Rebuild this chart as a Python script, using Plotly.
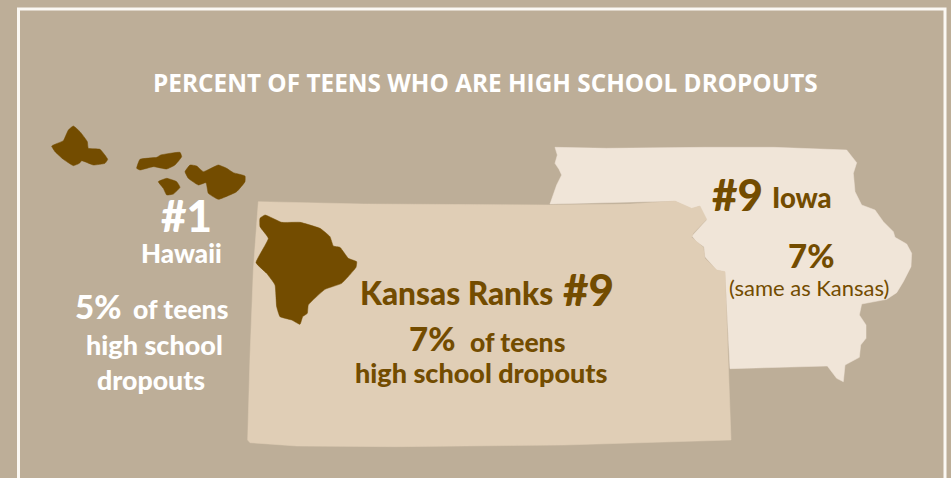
import plotly.graph_objects as go

BG = "#BDAE98"
KANSAS_FILL = "#E0CEB6"
IOWA_FILL = "#F0E5D8"
BROWN = "#734C00"
WHITE = "#FFFFFF"

IOWA = [(45,52),(200,55),(500,52),(700,52),(920,60),(950,98),(940,130),(945,185),(965,225),(1005,240),
        (1030,275),(1060,305),(1065,322),(1100,342),(1115,370),(1113,410),(1090,455),(1070,488),(1040,508),
        (965,522),(958,555),(978,585),(978,625),(962,645),(958,682),(915,705),(910,755),(890,745),(862,708),
        (570,716),(555,425),(530,420),(495,380),(492,350),(470,335),(456,318),(500,270),(478,228),(455,236),
        (405,213),(30,222),(45,180),(50,165),(65,135),(57,118),(45,100),(52,75)]
KANSAS = [(85,35),(400,42),(960,45),(1200,42),(1335,33),(1385,55),(1410,48),(1430,88),(1390,130),(1385,142),
          (1420,172),(1425,205),(1460,240),(1485,245),(1503,750),(1000,765),(500,770),(200,768),(60,758),
          (53,750),(60,500),(70,240)]
BIG_ISLAND = [(105,75),(155,97),(210,97),(270,115),(300,140),(310,168),(330,172),(355,205),(380,215),(378,232),
              (335,280),(285,298),(235,345),(232,370),(218,380),(210,403),(185,390),(150,380),(140,350),(135,285),
              (110,250),(78,218),(115,145),(90,110),(90,85)]
OAHU = [(220,78),(240,95),(262,125),(265,145),(300,148),(323,178),(315,190),(280,195),(245,182),(238,190),
        (220,197),(190,178),(165,155),(155,138),(190,122),(205,90)]
MOLOKAI = [(410,205),(420,178),(470,172),(482,165),(540,157),(545,170),(525,195),(500,207),(460,200),(420,210)]
LANAI = [(475,245),(500,235),(530,245),(540,262),(520,282),(500,285),(490,265)]
MAUI = [(555,215),(570,195),(590,198),(610,215),(655,195),(680,205),(700,218),(735,228),(735,245),(710,275),
        (655,298),(625,280),(618,248),(595,255),(565,235)]

FRAME_X = [18.5, 18.5, 945, 945]
FRAME_Y = [478, 9, 9, 478]

TITLE = "PERCENT OF TEENS WHO ARE HIGH SCHOOL DROPOUTS"


def crop(points, x0, y0):
    return [x0 + p[0] / 3 for p in points] + [x0 + points[0][0] / 3], [y0 + p[1] / 3 for p in points] + [y0 + points[0][1] / 3]


fig = go.Figure()


def poly(points, x0, y0, color, smooth=False):
    x, y = crop(points, x0, y0)
    line = dict(color=color, width=0.5)
    if smooth:
        line.update(shape="spline", smoothing=0.35)
    fig.add_trace(go.Scatter(x=x, y=y, mode="lines", fill="toself", fillcolor=color, line=line,
                             hoverinfo="skip", showlegend=False))


fig.add_trace(go.Scatter(x=FRAME_X, y=FRAME_Y, mode="lines", line=dict(color="#FBF8F3", width=3),
                         hoverinfo="skip", showlegend=False))
poly(IOWA, 540, 130, IOWA_FILL)
poly(KANSAS, 230, 190, KANSAS_FILL)
poly(BIG_ISLAND, 230, 190, BROWN, True)
for isle in (OAHU, MOLOKAI, LANAI, MAUI):
    poly(isle, 0, 100, BROWN, True)


def label(text, x, y, size, color, family="Lato", weight=900):
    fig.add_annotation(x=x, y=y, text=text, showarrow=False, xanchor="center", yanchor="middle",
                       font=dict(family=family, size=size, color=color, weight=weight))


label(TITLE, 485, 82, 24.35, WHITE, "Open Sans", 700)
label("#1", 186, 215, 44, WHITE)
label("Hawaii", 181, 253, 26, WHITE)
label("5%", 98, 306, 33, WHITE)
label("of teens", 180, 309, 26.5, WHITE)
label("high school", 154, 344, 27, WHITE)
label("dropouts", 151, 380, 26.7, WHITE)
label("Kansas Ranks", 456, 293, 31.6, BROWN)
label("#9", 588, 289, 44, BROWN)
label("7%", 432, 338, 33, BROWN)
label("of teens", 517, 342, 26.5, BROWN)
label("high school dropouts", 481, 372, 27, BROWN)
label("#9", 737, 194, 44, BROWN)
label("Iowa", 802, 197, 27.5, BROWN)
label("7%", 811, 255, 33, BROWN)
label("(same as Kansas)", 809, 287, 22, BROWN, "Lato", 400)

fig.update_layout(
    width=951, height=478, margin=dict(l=0, r=0, t=0, b=0),
    paper_bgcolor=BG, plot_bgcolor=BG, showlegend=False,
    xaxis=dict(range=[0, 951], visible=False, fixedrange=True),
    yaxis=dict(range=[478, 0], visible=False, fixedrange=True),
)
fig.write_html("out.html", config={"displayModeBar": False},
               post_script="document.body.style.margin='0';document.body.style.background='" + BG + "';")
